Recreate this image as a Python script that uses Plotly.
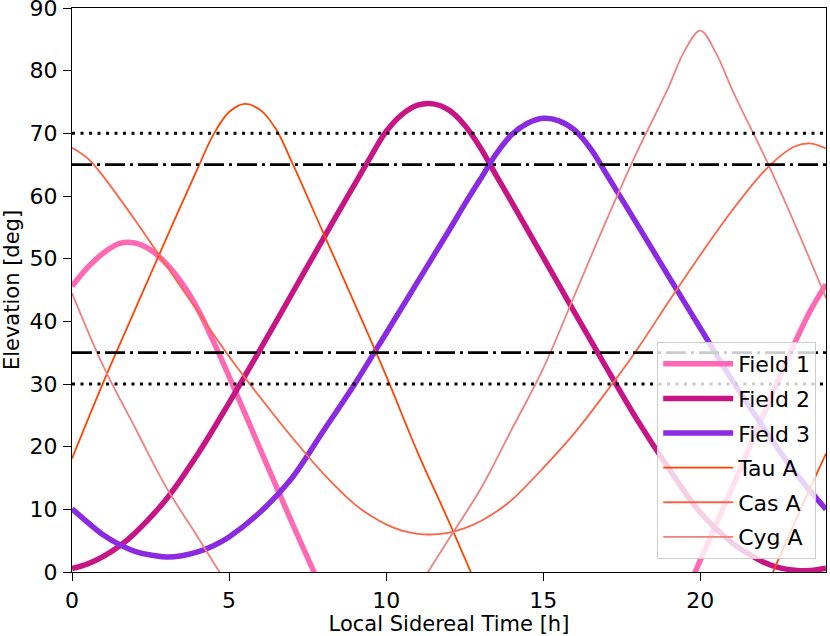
import plotly.graph_objects as go

# Elevation tracks (LST in hours, elevation in degrees).
# None splits a track where the source is below the horizon.
field1_lst = [0, 0.5, 1, 1.5, 2, 2.5, 3, 3.5, 4, 4.5, 5, 6, 7, 8, None,
              19, 20, 21, 22, 23, 23.5, 24]
field1_elev = [45.6, 48.6, 50.9, 52.4, 52.5, 51.4, 49.2, 46.1, 42.0, 36.8,
               31.2, 19.5, 7.9, -3.3, None,
               -9.6, 1.9, 13.3, 25.0, 36.5, 41.7, 45.9]

field2_lst = [0, 0.5, 1, 1.5, 2, 3, 4, 5, 6, 7, 8, 8.5, 9, 9.5, 10, 10.5, 11,
              11.5, 12, 12.5, 13, 13.5, 14, 15, 16, 17, 18, 19, 20, 21, 21.5,
              22, 22.5, 23, 23.5, 24]
field2_elev = [0.55, 1.3, 2.5, 4.1, 6.2, 11.6, 18.8, 27.0, 35.6, 44.4, 53.2,
               57.6, 61.9, 66.2, 70.3, 73.0, 74.5, 74.7, 73.7, 71.3, 67.7,
               63.3, 59.0, 50.2, 41.4, 32.7, 24.2, 16.5, 9.5, 4.7, 3.0, 1.6,
               0.7, 0.3, 0.24, 0.6]

field3_lst = [0, 1, 1.5, 2, 2.5, 3, 3.5, 4, 4.5, 5, 6, 7, 8, 9, 10, 11, 12,
              12.5, 13, 13.5, 14, 14.5, 15, 15.5, 16, 16.5, 17, 17.5, 18, 19,
              20, 21, 22, 23, 24]
field3_elev = [10.1, 5.9, 4.4, 3.3, 2.7, 2.4, 2.6, 3.2, 4.2, 5.6, 9.6, 15.0,
               22.5, 30.0, 38.1, 46.3, 54.5, 58.7, 62.7, 66.7, 69.8, 71.6, 72.4,
               72.0, 70.5, 67.6, 63.6, 59.5, 55.4, 47.1, 38.9, 30.7, 23.1, 16.0,
               10.0]

tau_lst = [0, 1, 2, 3, 4, 4.5, 5, 5.5, 6, 6.5, 7, 8, 9, 10, 11, 12, 13, None,
           22, 23, 24]
tau_elev = [18.1, 30.3, 41.8, 53.2, 64.4, 69.8, 73.4, 74.7, 73.7, 70.6, 65.4,
            54.1, 42.8, 31.3, 19.1, 8.0, -3.6, None, -3.7, 7.9, 18.9]

cas_lst = [0, 0.5, 1, 1.5, 2, 3, 4, 5, 6, 7, 8, 9, 9.5, 10, 10.5, 11, 11.5,
           12, 12.5, 13, 13.5, 14, 15, 16, 17, 18, 19, 20, 21, 22, 22.5, 23,
           23.5, 24]
cas_elev = [67.7, 66.0, 63.1, 59.7, 56.2, 48.9, 41.6, 34.4, 27.8, 21.5, 15.7,
            10.8, 9.0, 7.6, 6.6, 6.1, 6.0, 6.3, 7.0, 8.1, 9.6, 11.5, 16.6, 22.2,
            28.7, 35.6, 43.2, 50.6, 57.6, 63.8, 66.2, 67.9, 68.4, 67.6]

cyg_lst = [0, 1, 2, 3, 4, 5, None, 11, 12, 13, 14, 15, 16, 17, 18, 18.5, 19,
           19.5, 20, 20.5, 21, 21.5, 22, 23, 24]
cyg_elev = [44.5, 32.8, 23.1, 13.5, 5.6, -2.5, None, -2.6, 5.3, 13.2, 22.8,
            32.5, 44.2, 56.0, 67.2, 72.3, 77.5, 83.2, 86.4, 82.8, 77.1, 71.9,
            66.8, 55.6, 43.7]

# elevation limits drawn as horizontal lines
dotted_limits = [70, 30]
dashdot_limits = [65, 35]

x_ticks = [0, 5, 10, 15, 20]
y_ticks = [0, 10, 20, 30, 40, 50, 60, 70, 80, 90]

tracks = [
    ('Field 1', field1_lst, field1_elev, '#ff69b4', 5.5),
    ('Field 2', field2_lst, field2_elev, '#c71585', 5.5),
    ('Field 3', field3_lst, field3_elev, '#8a2be2', 5.5),
    ('Tau A', tau_lst, tau_elev, '#ff4500', 1.8),
    ('Cas A', cas_lst, cas_elev, '#ff6347', 1.8),
    ('Cyg A', cyg_lst, cyg_elev, '#f08080', 1.8),
]

fig = go.Figure()
for name, lst, elev, colour, width in tracks:
    fig.add_trace(go.Scatter(x=lst, y=elev, mode='lines', name=name,
                             legendgroup=name,
                             line=dict(color=colour, width=width,
                                       shape='spline', smoothing=1)))

for level in dotted_limits:
    fig.add_hline(y=level, line=dict(color='black', width=3,
                                     dash='3px,5.5px'))
for level in dashdot_limits:
    fig.add_hline(y=level, line=dict(color='black', width=2.8,
                                     dash='20px,5px,3px,5px'))

axis_style = dict(showline=True, linecolor='black', linewidth=1.3,
                  mirror=True, ticks='outside', ticklen=8, tickwidth=1.3,
                  tickcolor='black', showgrid=False, zeroline=False,
                  automargin=False, ticklabeloverflow='allow',
                  tickfont=dict(size=22, color='black'))

fig.update_xaxes(range=[0, 24], tickvals=x_ticks,
                 title=dict(text='Local Sidereal Time [h]', standoff=6,
                            font=dict(size=21, color='black')),
                 **axis_style)
fig.update_yaxes(range=[0, 90], tickvals=y_ticks, ticklabelstandoff=1,
                 title=dict(text='Elevation [deg]', standoff=9,
                            font=dict(size=21, color='black')),
                 **axis_style)

fig.update_layout(
    width=830, height=636,
    margin=dict(l=72, r=4, t=8, b=64),
    plot_bgcolor='white', paper_bgcolor='white',
    font=dict(family='DejaVu Sans', size=21, color='black'),
    legend=dict(x=0.987, y=0.023, xanchor='right', yanchor='bottom',
                bgcolor='rgba(255,255,255,0.8)', bordercolor='#cccccc',
                borderwidth=1, tracegroupgap=3, itemwidth=70,
                font=dict(size=22)),
)

# the page's default body margin would shift the figure; remove it
fig.write_html("out.html", config={'displayModeBar': False},
               post_script="document.body.style.margin = '0';")
